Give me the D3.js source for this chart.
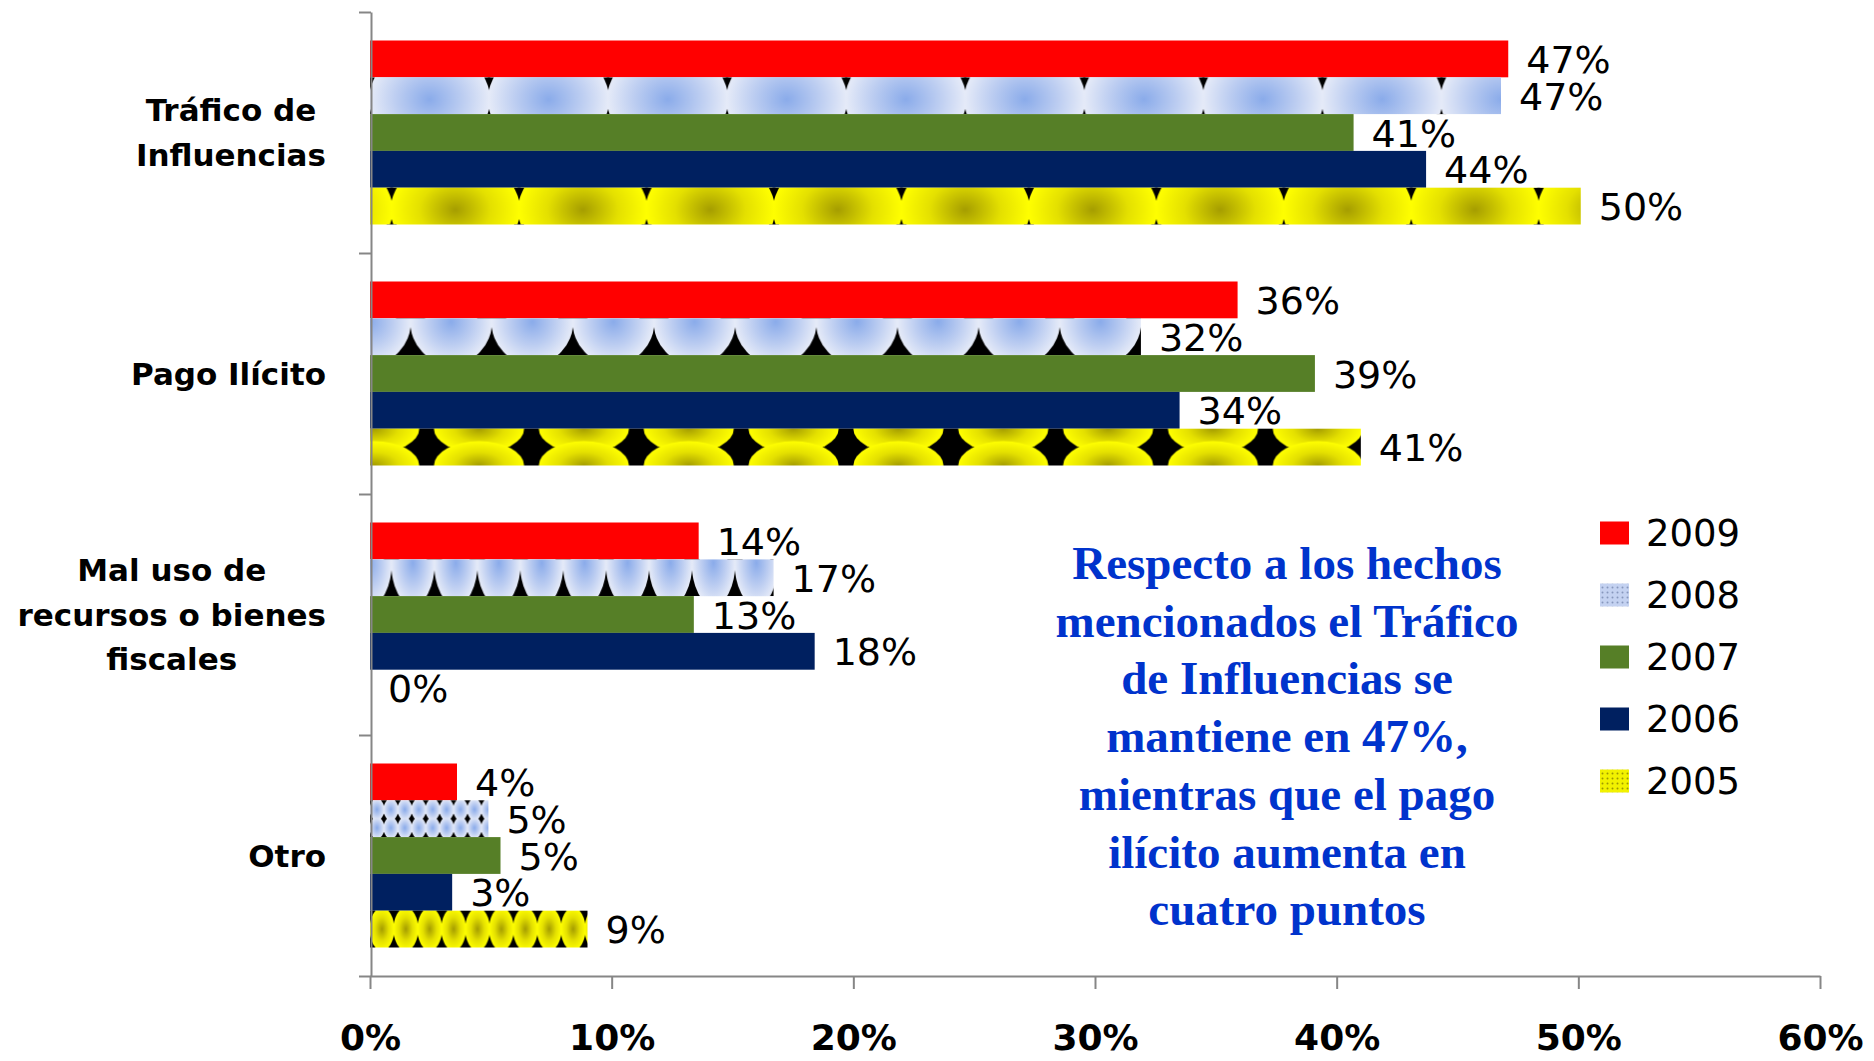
<!DOCTYPE html>
<html>
<head>
<meta charset="utf-8">
<script src="https://cdn.jsdelivr.net/npm/d3@7"></script>
<style>
  html, body { margin: 0; padding: 0; background: #ffffff; }
  svg { display: block; }
</style>
</head>
<body>
<svg id="chart" width="1874" height="1061"></svg>
<script>
// ---------- DATA ----------
const categories = ["Tráfico de Influencias", "Pago Ilícito", "Mal uso de recursos o bienes fiscales", "Otro"];
const categoryLines = [["Tráfico de", "Influencias"], ["Pago Ilícito"], ["Mal uso de", "recursos o bienes", "fiscales"], ["Otro"]];
const years = ["2009", "2008", "2007", "2006", "2005"];
const values2009 = [47.1, 35.9, 13.6, 3.6];
const values2008 = [46.8, 31.9, 16.7, 4.9];
const values2007 = [40.7, 39.1, 13.4, 5.4];
const values2006 = [43.7, 33.5, 18.4, 3.4];
const values2005 = [50.1, 41.0, 0, 9.0];
const xTickValues = [0, 10, 20, 30, 40, 50, 60];
const annotationLines = [
  "Respecto a los hechos",
  "mencionados el Tráfico",
  "de Influencias se",
  "mantiene en 47%,",
  "mientras que el pago",
  "ilícito aumenta en",
  "cuatro puntos"
];

const seriesValues = [values2009, values2008, values2007, values2006, values2005];

// ---------- STYLES ----------
const solidColors = { "2009": "#ff0000", "2007": "#567f27", "2006": "#002060" };
// texture layout for the picture-filled series, per category
const textureStyle = {
  "2008": [
    { cols: 9.5, rows: 1, kind: "top", phase: 0 },
    { cols: 9.5, rows: 1, kind: "bottom", phase: 0.5 },
    { cols: 9.4, rows: 1, kind: "bottom", phase: 0.5 },
    { cols: 8.5, rows: 2, kind: "full", phase: 0 }
  ],
  "2005": [
    { cols: 9.5, rows: 1, kind: "top", phase: 0.17 },
    { cols: 9.45, rows: 1, kind: "hourglass", phase: 0.54 },
    { cols: 9.5, rows: 1, kind: "full", phase: 0 },
    { cols: 9.1, rows: 1, kind: "full", phase: 0 }
  ]
};
const gradStops = {
  "2008": [["0%", "#8aabea"], ["55%", "#bccdf1"], ["100%", "#e6ebf8"]],
  "2005": [["0%", "#a59d00"], ["55%", "#e4e000"], ["100%", "#ffff00"]]
};

// ---------- SCALES ----------
const svg = d3.select("#chart");
const W = 1874, H = 1061;
svg.append("rect").attr("width", W).attr("height", H).attr("fill", "#ffffff");

const x = d3.scaleLinear().domain([0, 60]).range([370, 1820]);
const y = d3.scaleBand().domain(categories).range([12, 976]).padding(0);
const yInner = d3.scaleBand().domain(years).range([28.5, 212.5]).padding(0);

const defs = svg.append("defs");
Object.keys(gradStops).forEach(k => {
  const g = defs.append("radialGradient").attr("id", "grad" + k)
    .attr("cx", "50%").attr("cy", "50%").attr("r", "50%");
  gradStops[k].forEach(s => g.append("stop").attr("offset", s[0]).attr("stop-color", s[1]));
});

function makeTexture(id, year, style, bx, by, bw, bh) {
  const tw = Math.max(bw / style.cols, 1);
  const th = bh / style.rows;
  const p = defs.append("pattern").attr("id", id)
    .attr("patternUnits", "userSpaceOnUse")
    .attr("x", bx + style.phase * tw).attr("y", by)
    .attr("width", tw).attr("height", th);
  p.append("rect").attr("width", tw).attr("height", th).attr("fill", "#000000");
  const fill = "url(#grad" + year + ")";
  if (style.kind === "top") {
    p.append("ellipse").attr("cx", tw / 2).attr("cy", th * 0.6)
      .attr("rx", tw / 2 + 1).attr("ry", th * 1.4).attr("fill", fill);
  } else if (style.kind === "bottom") {
    p.append("ellipse").attr("cx", tw / 2).attr("cy", th * 0.1)
      .attr("rx", tw / 2 + 0.3).attr("ry", th * 1.15).attr("fill", fill);
  } else if (style.kind === "hourglass") {
    p.append("ellipse").attr("cx", tw / 2).attr("cy", 0)
      .attr("rx", tw * 0.43).attr("ry", th * 0.66).attr("fill", fill);
    p.append("ellipse").attr("cx", tw / 2).attr("cy", th)
      .attr("rx", tw * 0.43).attr("ry", th * 0.66).attr("fill", fill);
  } else {
    p.append("ellipse").attr("cx", tw / 2).attr("cy", th / 2)
      .attr("rx", tw / 2 + 0.4).attr("ry", th * 0.58).attr("fill", fill);
  }
}

// ---------- BARS ----------
const barData = [];
years.forEach((yr, si) => {
  categories.forEach((cat, ci) => {
    barData.push({ year: yr, si, cat, ci, value: seriesValues[si][ci] });
  });
});

barData.forEach(d => {
  d.bx = x(0);
  d.by = y(d.cat) + yInner(d.year);
  d.bw = x(d.value) - x(0);
  d.bh = yInner.bandwidth();
  if (textureStyle[d.year]) {
    const id = "tex-" + d.year + "-" + d.ci;
    makeTexture(id, d.year, textureStyle[d.year][d.ci], d.bx, d.by, d.bw, d.bh);
    d.fill = "url(#" + id + ")";
  } else {
    d.fill = solidColors[d.year];
  }
});

svg.append("g").selectAll("rect").data(barData).join("rect")
  .attr("x", d => d.bx).attr("y", d => d.by)
  .attr("width", d => Math.max(d.bw, 0)).attr("height", d => d.bh)
  .attr("fill", d => d.fill);

// value labels
svg.append("g").selectAll("text").data(barData).join("text")
  .attr("x", d => x(d.value) + 18)
  .attr("y", d => d.by + d.bh / 2 + 14)
  .attr("font-family", "DejaVu Sans, sans-serif")
  .attr("font-size", 38)
  .attr("fill", "#000000")
  .text(d => Math.round(d.value) + "%");

// ---------- AXES ----------
const axisColor = "#868686";
const xAxis = svg.append("g").attr("transform", "translate(0,976)")
  .call(d3.axisBottom(x).tickValues(xTickValues).tickSize(13).tickSizeOuter(0)
    .tickFormat(d => d + "%"));
xAxis.select(".domain").attr("stroke", axisColor).attr("stroke-width", 2);
xAxis.selectAll(".tick line").attr("stroke", axisColor).attr("stroke-width", 2);
xAxis.selectAll(".tick text")
  .attr("y", 74).attr("dy", 0)
  .attr("font-family", "DejaVu Sans, sans-serif")
  .attr("font-weight", "bold")
  .attr("font-size", 36)
  .attr("fill", "#000000");

const yBound = d3.scaleLinear().domain([0, categories.length]).range([12, 976]);
const yAxis = svg.append("g").attr("transform", "translate(371,0)")
  .call(d3.axisLeft(yBound).tickValues(d3.range(categories.length + 1))
    .tickSize(12).tickSizeOuter(0).tickFormat(""));
yAxis.select(".domain").attr("stroke", axisColor).attr("stroke-width", 2);
yAxis.selectAll(".tick line").attr("stroke", axisColor).attr("stroke-width", 2);

// category labels (block right-aligned, lines centered in block)
const labelRight = 326;
const lineGap = 44.5;
categories.forEach((cat, ci) => {
  const lines = categoryLines[ci];
  const cy = y(cat) + y.bandwidth() / 2;
  const g = svg.append("g");
  const texts = lines.map((ln, li) => g.append("text")
    .attr("font-family", "DejaVu Sans, sans-serif")
    .attr("font-weight", "bold")
    .attr("font-size", 31)
    .attr("fill", "#000000")
    .attr("text-anchor", "middle")
    .attr("y", cy + (li - (lines.length - 1) / 2) * lineGap + 11)
    .text(ln));
  const maxW = d3.max(texts, t => t.node().getComputedTextLength());
  texts.forEach(t => t.attr("x", labelRight - maxW / 2));
});

// ---------- LEGEND ----------
const legPat08 = defs.append("pattern").attr("id", "leg2008").attr("patternUnits", "userSpaceOnUse")
  .attr("width", 5).attr("height", 5);
legPat08.append("rect").attr("width", 5).attr("height", 5).attr("fill", "#c4d2f1");
legPat08.append("circle").attr("cx", 2.5).attr("cy", 2.5).attr("r", 1).attr("fill", "#8797bd");
const legPat05 = defs.append("pattern").attr("id", "leg2005").attr("patternUnits", "userSpaceOnUse")
  .attr("width", 5).attr("height", 5);
legPat05.append("rect").attr("width", 5).attr("height", 5).attr("fill", "#f2f200");
legPat05.append("circle").attr("cx", 2.5).attr("cy", 2.5).attr("r", 1).attr("fill", "#9e9a00");

const legendRowY = d3.scalePoint().domain(years).range([533, 781]);
const legend = svg.append("g").selectAll("g").data(years).join("g")
  .attr("transform", d => `translate(1600,${legendRowY(d)})`);
legend.append("rect").attr("x", 0).attr("y", -11.5).attr("width", 29).attr("height", 23)
  .attr("fill", d => solidColors[d] || ("url(#leg" + d + ")"));
legend.append("text").attr("x", 46).attr("y", 13)
  .attr("font-family", "DejaVu Sans, sans-serif")
  .attr("font-size", 37)
  .attr("fill", "#000000")
  .text(d => d);

// ---------- ANNOTATION ----------
svg.append("g").selectAll("text").data(annotationLines).join("text")
  .attr("x", 1287)
  .attr("y", (d, i) => 579 + i * 57.7)
  .attr("text-anchor", "middle")
  .attr("font-family", "Liberation Serif, Times New Roman, serif")
  .attr("font-weight", "bold")
  .attr("font-size", 47)
  .attr("fill", "#0033cc")
  .text(d => d);
</script>
</body>
</html>
